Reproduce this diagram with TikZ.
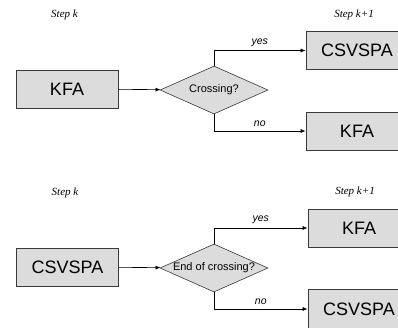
\documentclass[tikz,border=0pt]{standalone}
\usepackage{fontspec}
\setmainfont{Liberation Sans}
\newfontfamily\stepfont{Liberation Serif}
\usetikzlibrary{shapes.geometric,arrows.meta}
\definecolor{boxfill}{HTML}{DCDCDC}
\definecolor{boxline}{HTML}{3A3A3A}
\begin{document}
\begin{tikzpicture}[x=1pt,y=-1pt,
  statebox/.style={draw=boxline,fill=boxfill,line width=0.8pt,minimum width=102pt,minimum height=38pt,inner sep=0pt,font=\fontsize{18}{20}\selectfont},
  decision/.style={diamond,draw=boxline,fill=boxfill,line width=0.6pt,minimum width=108pt,minimum height=48pt,inner sep=0pt,
    label={[font=\fontsize{11}{13}\selectfont,inner sep=0pt]center:#1}},
  steplabel/.style={font=\stepfont\itshape\fontsize{11}{13}\selectfont,inner sep=0pt},
  edgelabel/.style={font=\itshape\fontsize{10.5}{12}\selectfont,inner sep=0pt},
  flow/.style={draw=black,line width=0.6pt,-{Latex[length=5pt,width=4pt]}}]
\useasboundingbox (0,0) rectangle (398,327);
\fill[white] (0,0) rectangle (398,327);

% upper transition: KFA -> Crossing?
\node[steplabel] (sk1) at (64.5,15) {Step k};
\node[steplabel] (skp1) at (354,15) {Step k+1};
\node[statebox] (kfaA) at (67,89) {KFA};
\node[decision=Crossing?] (crossA) at (214,90) {};
\node[statebox] (csvA) at (357,50.5) {CSVSPA};
\node[statebox] (kfaB) at (357,131) {KFA};
\draw[flow] (kfaA) -- (crossA);
\draw[flow] (crossA.north) |- (csvA.west) node[edgelabel,pos=0.75,above=4pt] (yesA) {yes};
\draw[flow] (crossA.south) |- (kfaB.west) node[edgelabel,pos=0.75,above=4pt] (noA) {no};

% lower transition: CSVSPA -> End of crossing?
\node[steplabel] (sk2) at (65,193) {Step k};
\node[steplabel] (skp2) at (355,192) {Step k+1};
\node[statebox] (csvB) at (67.5,267) {CSVSPA};
\node[decision=End of crossing?] (crossB) at (214,268) {};
\node[statebox] (kfaC) at (359,228) {KFA};
\node[statebox,minimum height=40pt] (csvC) at (359,309) {CSVSPA};
\draw[flow] (csvB) -- (crossB);
\draw[flow] (crossB.north) |- (kfaC.west) node[edgelabel,pos=0.75,above=4pt] (yesB) {yes};
\draw[flow] (crossB.south) |- (csvC.west) node[edgelabel,pos=0.75,above=4pt] (noB) {no};
\end{tikzpicture}
\end{document}
